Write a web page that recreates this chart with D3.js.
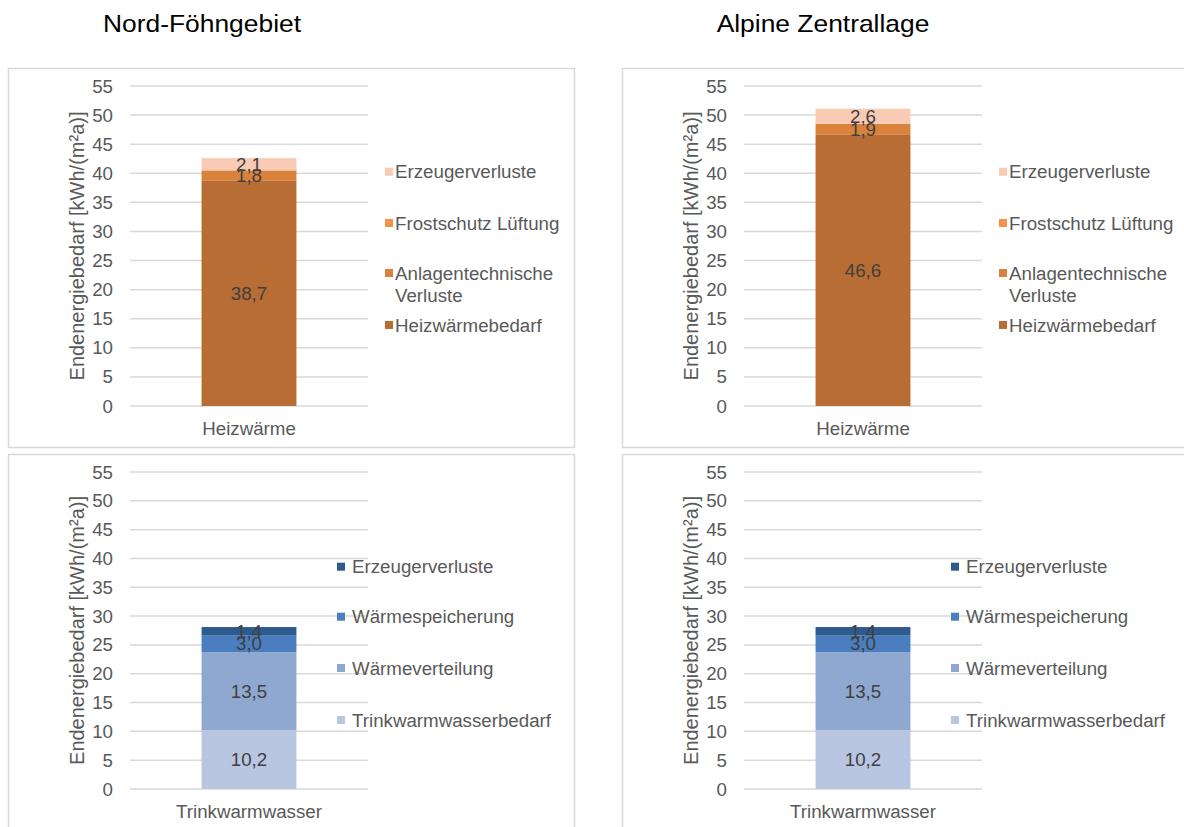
<!DOCTYPE html>
<html>
<head>
<meta charset="utf-8">
<script src="https://cdn.jsdelivr.net/npm/d3@7"></script>
<style>
  html, body { margin: 0; padding: 0; background: #fff; }
  svg { display: block; font-family: "Liberation Sans", Arial, sans-serif; }
</style>
</head>
<body>
<svg id="chart" width="1184" height="827"></svg>
<script>
// Stack order from bottom to top
const heatSeries = ["Heizwärmebedarf", "Anlagentechnische Verluste", "Frostschutz Lüftung", "Erzeugerverluste"];
const heatColors = ["#B76D33", "#D9823B", "#F4924A", "#F9CAB4"];
const heatNord = [38.7, 1.8, 0, 2.1];
const heatAlpin = [46.6, 1.9, 0, 2.6];

const dhwSeries = ["Trinkwarmwasserbedarf", "Wärmeverteilung", "Wärmespeicherung", "Erzeugerverluste"];
const dhwColors = ["#B8C6E1", "#8FA8D0", "#4A7EBF", "#2E5A8E"];
const dhwNord = [10.2, 13.5, 3.0, 1.4];
const dhwAlpin = [10.2, 13.5, 3.0, 1.4];

const yTicks = [0, 5, 10, 15, 20, 25, 30, 35, 40, 45, 50, 55];
const regionTitles = ["Nord-Föhngebiet", "Alpine Zentrallage"];
const axisTitle = "Endenergiebedarf [kWh/(m²a)]";

const SX = 1.04;              // horizontal text stretch
const FS = 18;                // base font size
const fmt = v => d3.format(".1f")(v).replace(".", ",");

const svg = d3.select("#chart");

// Region headings
const titleX = [202, 823];
regionTitles.forEach((t, i) => {
  svg.append("text")
    .attr("transform", `translate(${titleX[i]},32) scale(1.1,1)`)
    .attr("text-anchor", "middle")
    .attr("font-size", 24)
    .attr("fill", "#000")
    .text(t);
});

const panels = [
  { px: 8,   py: 68,  h: 379, plotBottom: 338, cat: "Heizwärme",      series: heatSeries, colors: heatColors, values: heatNord,
    legendSwatchX: 377, legendTextX: 387, legendRows: [[103.7], [155], [205, 227], [257]] },
  { px: 622, py: 68,  h: 379, plotBottom: 338, cat: "Heizwärme",      series: heatSeries, colors: heatColors, values: heatAlpin,
    legendSwatchX: 377, legendTextX: 387, legendRows: [[103.7], [155], [205, 227], [257]] },
  { px: 8,   py: 454, h: 380, plotBottom: 335, cat: "Trinkwarmwasser", series: dhwSeries, colors: dhwColors, values: dhwNord,
    legendSwatchX: 329, legendTextX: 344, legendRows: [[112.7], [162.7], [214], [266]] },
  { px: 622, py: 454, h: 380, plotBottom: 335, cat: "Trinkwarmwasser", series: dhwSeries, colors: dhwColors, values: dhwAlpin,
    legendSwatchX: 329, legendTextX: 344, legendRows: [[112.7], [162.7], [214], [266]] }
];

const legendLabels = {
  "Anlagentechnische Verluste": ["Anlagentechnische", "Verluste"]
};

panels.forEach(p => {
  const g = svg.append("g").attr("transform", `translate(${p.px},${p.py})`);

  // chart frame
  g.append("rect")
    .attr("x", 0.5).attr("y", 0.5)
    .attr("width", 566).attr("height", p.h)
    .attr("fill", "#fff")
    .attr("stroke", "#D9D9D9").attr("stroke-width", 1.5);

  const left = 122, right = 360, top = 18, bottom = p.plotBottom;
  const y = d3.scaleLinear().domain([0, 55]).range([bottom, top]);
  const x = d3.scaleBand().domain([p.cat]).range([left, right]).paddingInner(0.43).paddingOuter(0.43);

  // gridlines
  g.append("g").selectAll("line").data(yTicks).join("line")
    .attr("x1", left).attr("x2", right)
    .attr("y1", d => y(d)).attr("y2", d => y(d))
    .attr("stroke", "#D9D9D9").attr("stroke-width", 1.5);

  // tick labels
  g.append("g").selectAll("text").data(yTicks).join("text")
    .attr("transform", d => `translate(105,${y(d) + 6.5}) scale(${SX},1)`)
    .attr("text-anchor", "end")
    .attr("font-size", FS)
    .attr("fill", "#595959")
    .text(d => d);

  // axis title
  g.append("text")
    .attr("transform", `translate(76,${(top + bottom) / 2}) scale(1.05,1) rotate(-90)`)
    .attr("text-anchor", "middle")
    .attr("font-size", 20)
    .attr("fill", "#595959")
    .text(axisTitle);

  // stacked segments
  const stack = [];
  let acc = 0;
  p.values.forEach((v, i) => {
    stack.push({ y0: acc, y1: acc + v, v, color: p.colors[i], name: p.series[i] });
    acc += v;
  });

  g.append("g").selectAll("rect").data(stack).join("rect")
    .attr("x", x(p.cat))
    .attr("width", x.bandwidth())
    .attr("y", d => y(d.y1))
    .attr("height", d => y(d.y0) - y(d.y1))
    .attr("fill", d => d.color);

  // value labels
  g.append("g").selectAll("text").data(stack.filter(d => d.v > 0)).join("text")
    .attr("transform", d => `translate(${x(p.cat) + x.bandwidth() / 2},${y((d.y0 + d.y1) / 2) + 6.5}) scale(${SX},1)`)
    .attr("text-anchor", "middle")
    .attr("font-size", FS)
    .attr("fill", "#404040")
    .text(d => fmt(d.v));

  // category label
  g.append("text")
    .attr("transform", `translate(${x(p.cat) + x.bandwidth() / 2},${bottom + 29}) scale(${SX},1)`)
    .attr("text-anchor", "middle")
    .attr("font-size", FS)
    .attr("fill", "#595959")
    .text(p.cat);

  // legend, listed top-down in reverse stack order
  const legendItems = p.series.map((s, i) => ({ name: s, color: p.colors[i] })).reverse();
  legendItems.forEach((item, i) => {
    const rows = p.legendRows[i];
    g.append("rect")
      .attr("x", p.legendSwatchX).attr("y", rows[0] - 4)
      .attr("width", 8).attr("height", 8)
      .attr("fill", item.color);
    const lines = legendLabels[item.name] || [item.name];
    lines.forEach((ln, j) => {
      g.append("text")
        .attr("transform", `translate(${p.legendTextX},${rows[j] + 6.5}) scale(${SX},1)`)
        .attr("font-size", FS)
        .attr("fill", "#595959")
        .text(ln);
    });
  });
});
</script>
</body>
</html>
